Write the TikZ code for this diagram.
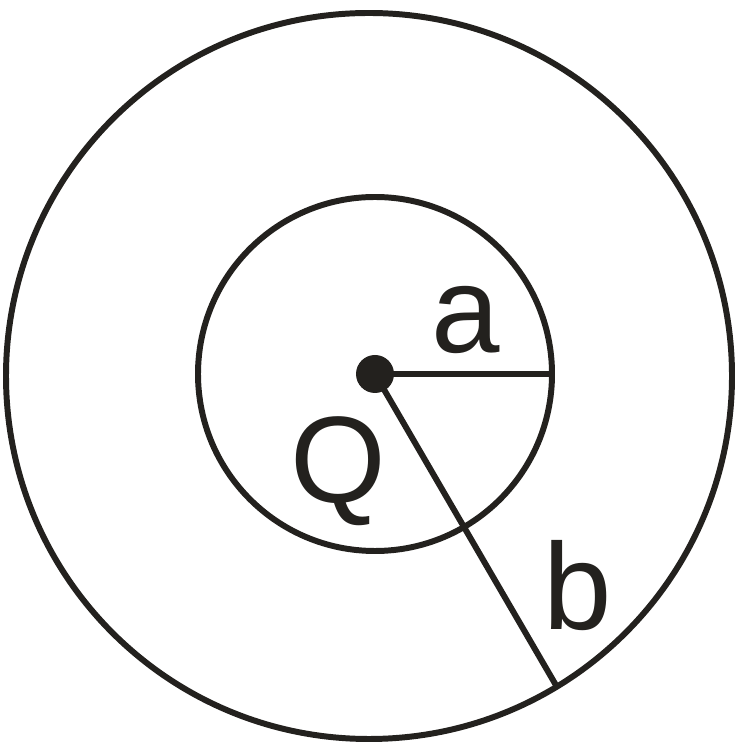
\documentclass[tikz,border=0pt]{standalone}
\usepackage{fontspec}
\setmainfont{Liberation Sans}
\usetikzlibrary{calc}
\definecolor{inkblack}{RGB}{35,33,30}

\begin{document}
\begin{tikzpicture}[x=0.02cm,y=0.02cm,line width=3.4pt,
    lbl/.style={font=\fontsize{70}{80}\selectfont,text=inkblack,anchor=base,inner sep=0pt}]
    \useasboundingbox (0,0) rectangle (738,750);
    \coordinate (O) at (369,374);
    \coordinate (C) at (375,376);
    \draw[inkblack] (O) circle (363);
    \draw[inkblack] (C) circle (177);
    \fill[inkblack] (C) circle (19);
    \coordinate (A) at ($(C)+(177,0)$);
    \coordinate (B) at (557,63);
    \draw[inkblack] (C) -- (A);
    \draw[inkblack] (C) -- (B);
    \node[lbl] (la) at (466,397) {a};
    \node[lbl] (lq) at (338,247) {Q};
    \node[lbl] (lb) at (578,120) {b};
  \end{tikzpicture}
\end{document}
